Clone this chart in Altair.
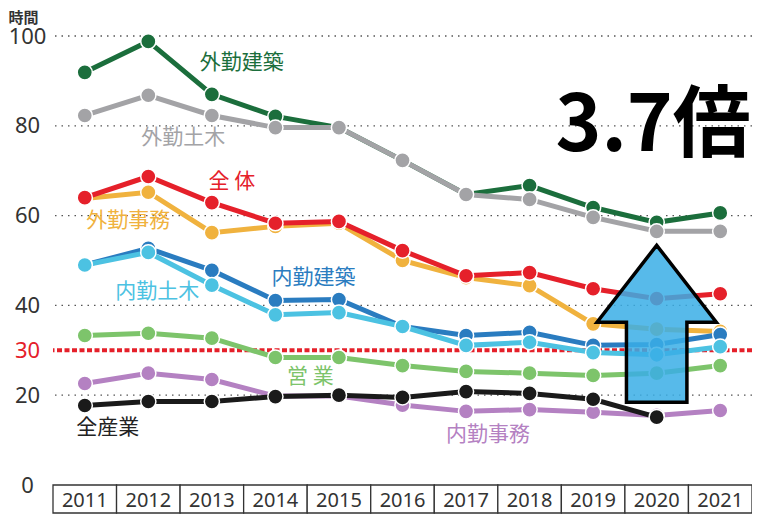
import altair as alt
import pandas as pd

years = ["2011", "2012", "2013", "2014", "2015", "2016", "2017", "2018", "2019", "2020", "2021"]

gaikin_kenchiku = [91.9, 98.8, 87.0, 82.1, 79.6, 72.3, 64.7, 66.7, 61.8, 58.5, 60.6]
gaikin_doboku = [82.3, 86.8, 82.3, 79.6, 79.6, 72.3, 64.7, 63.6, 59.6, 56.5, 56.5]
gaikin_jimu = [63.8, 65.2, 56.2, 57.6, 58.3, 50.0, 46.2, 44.4, 35.9, 34.7, 34.2]
zentai = [64.0, 68.7, 62.9, 58.3, 58.7, 52.2, 46.6, 47.3, 43.7, 41.5, 42.6]
naikin_kenchiku = [49.0, 52.7, 47.8, 41.1, 41.3, 35.3, 33.3, 34.0, 31.1, 31.3, 33.5]
naikin_doboku = [49.0, 51.8, 44.5, 37.9, 38.4, 35.3, 31.1, 31.8, 29.5, 29.0, 30.8]
eigyo = [33.3, 33.8, 32.7, 28.4, 28.4, 26.6, 25.3, 24.9, 24.4, 24.9, 26.6]
naikin_jimu = [22.6, 24.9, 23.5, 19.8, 19.8, 17.8, 16.4, 16.8, 16.2, 15.5, 16.6]
zen_sangyo = [17.7, 18.6, 18.6, 19.7, 20.0, 19.5, 20.8, 20.4, 19.1, 15.1, None]

series_names = ["外勤建築", "外勤土木", "外勤事務", "全体", "内勤建築", "内勤土木", "営業", "内勤事務", "全産業"]
series_values = [gaikin_kenchiku, gaikin_doboku, gaikin_jimu, zentai, naikin_kenchiku,
                 naikin_doboku, eigyo, naikin_jimu, zen_sangyo]
series_colors = ["#1b6e3c", "#a3a3a6", "#f0b23e", "#e5202a", "#2a7cc0",
                 "#4cc2e2", "#7dc46b", "#b481c2", "#1a1a1a"]

label_texts = ["外勤建築", "外勤土木", "全 体", "外勤事務", "内勤建築", "内勤土木", "営 業", "全産業", "内勤事務"]
label_colors = ["#1b6e3c", "#a3a3a6", "#e5202a", "#f0b23e", "#2a7cc0", "#4cc2e2", "#7dc46b", "#222222", "#b481c2"]
# label placement (anchor year, value, pixel offset)
label_years = ["2013", "2012", "2013", "2012", "2014", "2012", "2014", "2011", "2017"]
label_vals = [93.9, 77.2, 67.4, 58.9, 46.0, 42.9, 24.0, 12.6, 11.1]
label_dx = [30, 35, 20, -20, 38, 9, 35, 23, 22]

grid_values = [20, 40, 60, 80, 100]
axis_values = [0, 20, 30, 40, 60, 80, 100]
threshold = 30

ratio_text = "3.7倍"
arrow_year = "2020"
arrow_center = 35.9

W, H = 699, 449
x_scale = alt.Scale(domain=years, paddingInner=0, paddingOuter=0)
y_scale = alt.Scale(domain=[0, 100], nice=False)

Y_AX = alt.Axis(
    values=axis_values, grid=False, ticks=False, domain=False,
    labelFontSize=22, labelFont="Noto Sans",
    labelColor=alt.condition("datum.value == 30", alt.value("#e5202a"), alt.value("#333333")),
    labelAlign="center", labelBaseline="middle", labelPadding=26,
    title="時間", titleAngle=0, titleAlign="left", titleBaseline="middle",
    titleX=-45, titleY=-19, titleFontSize=15, titleFont="Noto Sans CJK JP",
    titleFontWeight="bold", titleColor="#333333",
)
X_AX = alt.Axis(
    orient="bottom", labelAngle=0, ticks=False, domain=False,
    labelFontSize=20, labelFont="Noto Sans", labelColor="#333333",
    labelPadding=15, labelBaseline="middle", title=None,
)


def X(field="year:N"):
    return alt.X(field, scale=x_scale, axis=X_AX)


def Y(field="value:Q"):
    return alt.Y(field, scale=y_scale, axis=Y_AX)


ARROW = "M0,-1 L0.76,-0.02 L0.385,-0.02 L0.385,1 L-0.385,1 L-0.385,-0.02 L-0.76,-0.02 Z"

grid = alt.Chart(pd.DataFrame({"value": grid_values})).mark_rule(
    color="#555555", strokeDash=[1.5, 5], strokeWidth=1.3
).encode(y=Y())

red_line = alt.Chart(pd.DataFrame({"value": [threshold]})).mark_rule(
    color="#e5202a", strokeDash=[5, 2.5], strokeWidth=4
).encode(y=Y())

table = alt.Chart(pd.DataFrame({"year": years})).mark_rect(
    fill="white", stroke="#333333", strokeWidth=1.3
).encode(
    x=X(),
    y=alt.value(H),
    y2=alt.value(H + 28),
)

layers = [grid, red_line, table]

for name, vals, c in zip(series_names, series_values, series_colors):
    df = pd.DataFrame({"year": years, "value": vals}).dropna()
    base = alt.Chart(df).encode(x=X(), y=Y())
    layers.append(base.mark_line(color=c, strokeWidth=5))
    layers.append(base.mark_circle(fill=c, stroke="white", strokeWidth=1.5, size=230, opacity=1))

for t, c, yr, v, dx in zip(label_texts, label_colors, label_years, label_vals, label_dx):
    layers.append(
        alt.Chart(pd.DataFrame({"year": [yr], "value": [v], "t": [t]})).mark_text(
            color=c, fontSize=21, font="Noto Sans CJK JP", dx=dx, baseline="middle", align="center"
        ).encode(x=X(), y=Y(), text="t:N")
    )

arrow = alt.Chart(pd.DataFrame({"year": [arrow_year], "value": [arrow_center]})).mark_point(
    shape=ARROW, size=157 * 157, filled=True, fill="#3aaee6", fillOpacity=0.85,
    stroke="black", strokeWidth=3.5, opacity=1
).encode(x=X(), y=Y())
layers.append(arrow)

ratio = alt.Chart(pd.DataFrame({"year": ["2019"], "value": [79.4], "t": [ratio_text]})).mark_text(
    color="black", fontSize=78, font="Noto Sans CJK JP", fontWeight="bold", dx=60,
    baseline="middle", align="center"
).encode(x=X(), y=Y(), text="t:N")
layers.append(ratio)

chart = alt.layer(*layers).properties(
    width=W, height=H,
    autosize=alt.AutoSizeParams(type="none"),
    padding={"left": 45, "top": 28, "right": 0, "bottom": 29},
).configure_view(stroke="transparent")

chart.save("out.html", embed_options={"renderer": "svg", "actions": False})
